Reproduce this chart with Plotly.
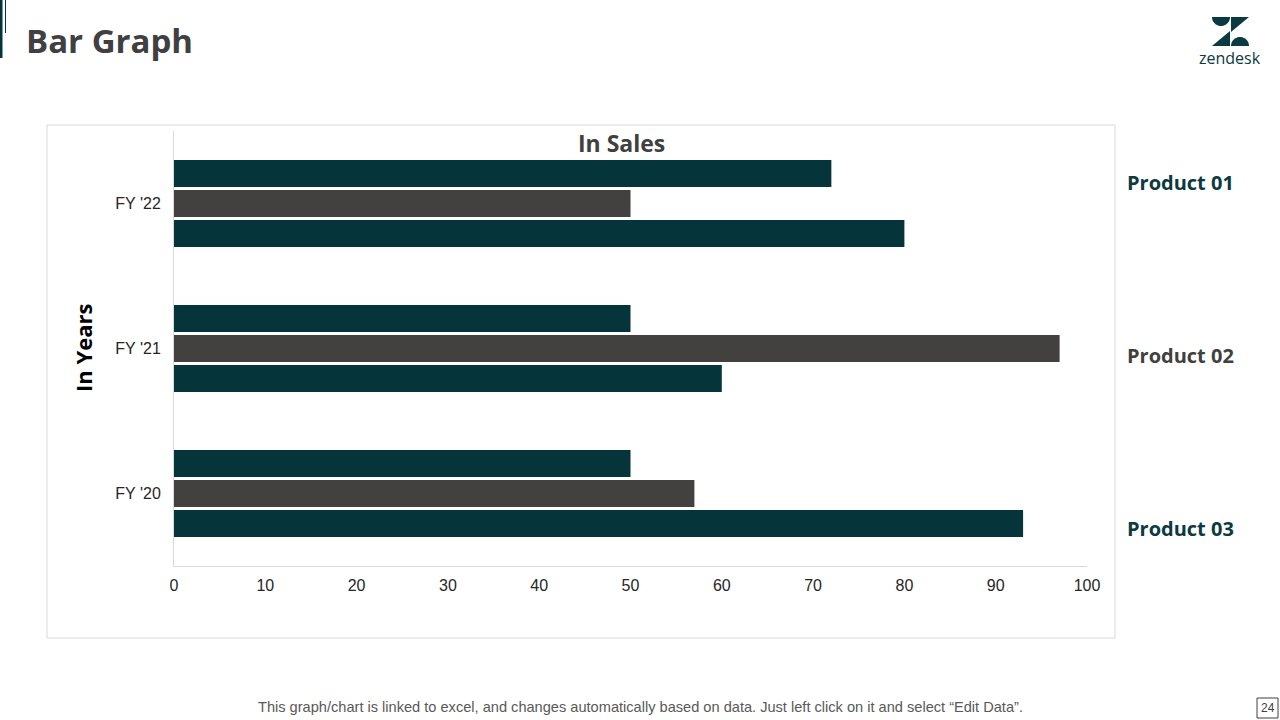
import math
import plotly.graph_objects as go

W, H = 1280, 720

years = ["FY '20", "FY '21", "FY '22"]
product_names = ["Product 01", "Product 02", "Product 03"]
product_01 = [50, 50, 72]
product_02 = [57, 97, 50]
product_03 = [93, 60, 80]
x_ticks = [0, 10, 20, 30, 40, 50, 60, 70, 80, 90, 100]

TEAL = "#06343b"
GRAY = "#434140"
LOGO = "#0b3a40"
HEAD = "Open Sans, sans-serif"

def px(x):
    return x / W

def py(y):
    return 1 - y / H

fig = go.Figure()
# plotly draws the first trace at the bottom of each group
for name, vals, col in [
    (product_names[2], product_03, TEAL),
    (product_names[1], product_02, GRAY),
    (product_names[0], product_01, TEAL),
]:
    fig.add_trace(go.Bar(y=years, x=vals, orientation="h", name=name,
                         marker=dict(color=col, line=dict(width=0))))

fig.update_layout(
    template="none",
    width=W, height=H, autosize=False,
    margin=dict(l=0, r=0, t=0, b=0, pad=0, autoexpand=False),
    paper_bgcolor="white", plot_bgcolor="white",
    showlegend=False,
    barmode="group", bargap=0.38, bargroupgap=0.1,
    font=dict(family="Liberation Sans, Arial, sans-serif", color="#262626"),
    xaxis=dict(domain=[px(174), px(1087)], range=[0, 100], tickvals=x_ticks,
               showgrid=False, zeroline=False, showline=True, linecolor="#d9d9d9",
               linewidth=1, ticks="", tickfont=dict(size=16, color="#262626"),
               ticklabelstandoff=5, fixedrange=True, automargin=False),
    yaxis=dict(domain=[py(566), py(131)], range=[-0.5, 2.5], type="category",
               showgrid=False, zeroline=False, showline=True, linecolor="#d9d9d9",
               linewidth=1, ticks="", tickfont=dict(size=16, color="#262626"),
               ticklabelstandoff=9, fixedrange=True, automargin=False),
)

shapes = []
shapes.append(dict(type="rect", xref="paper", yref="paper",
                   x0=px(47), x1=px(1115), y0=py(638), y1=py(125),
                   line=dict(color="#d9d9d9", width=1), fillcolor="rgba(0,0,0,0)", layer="below"))
shapes.append(dict(type="rect", xref="paper", yref="paper",
                   x0=px(0), x1=px(2.5), y0=py(58), y1=py(0),
                   line=dict(width=0), fillcolor=TEAL))
shapes.append(dict(type="line", xref="paper", yref="paper",
                   x0=px(5.5), x1=px(5.5), y0=py(33), y1=py(0),
                   line=dict(color=TEAL, width=1)))
shapes.append(dict(type="rect", xref="paper", yref="paper",
                   x0=px(1257), x1=px(1278), y0=py(718), y1=py(698),
                   line=dict(color="#404040", width=1), fillcolor="rgba(0,0,0,0)"))

def pth(points):
    return "M " + " L ".join(f"{px(a):.5f},{py(b):.5f}" for a, b in points) + " Z"

def half_disc(cx, cy, r, down=True):
    pts = []
    n = 24
    for i in range(n + 1):
        t = math.pi * i / n
        pts.append((cx + r * math.cos(t), cy + (r * math.sin(t) if down else -r * math.sin(t))))
    return pts

shapes.append(dict(type="path", xref="paper", yref="paper",
                   path=pth(half_disc(1221, 17, 9, down=True)),
                   line=dict(width=0), fillcolor=LOGO))
shapes.append(dict(type="path", xref="paper", yref="paper",
                   path=pth([(1231, 17), (1249, 17), (1231, 32)]),
                   line=dict(width=0), fillcolor=LOGO))
shapes.append(dict(type="path", xref="paper", yref="paper",
                   path=pth([(1212, 46), (1230, 46), (1230, 31)]),
                   line=dict(width=0), fillcolor=LOGO))
shapes.append(dict(type="path", xref="paper", yref="paper",
                   path=pth(half_disc(1240, 46, 9, down=False)),
                   line=dict(width=0), fillcolor=LOGO))

fig.update_layout(shapes=shapes)

ann = []
def add_text(text, x, y, size, color, family, xanchor="center", bold=False, angle=0, weight=None):
    t = f"<b>{text}</b>" if bold else text
    f = dict(size=size, color=color, family=family)
    if weight:
        f["weight"] = weight
    ann.append(dict(text=t, x=px(x), y=py(y), xref="paper", yref="paper",
                    xanchor=xanchor, yanchor="middle", showarrow=False,
                    textangle=angle, font=f))

add_text("Bar Graph", 24, 40, 33, "#404040", HEAD, xanchor="left", bold=True)
add_text("zendesk", 1230, 58, 16, LOGO, "Open Sans, sans-serif", weight=500)
add_text("In Sales", 621, 143, 23, "#404040", HEAD, bold=True)
add_text("In Years", 83, 348, 22, "#000000", HEAD, bold=True, angle=-90)
add_text(product_names[0], 1125, 182, 20, "#0b3a40", HEAD, xanchor="left", bold=True)
add_text(product_names[1], 1125, 355, 20, "#404040", HEAD, xanchor="left", bold=True)
add_text(product_names[2], 1125, 528, 20, "#0b3a40", HEAD, xanchor="left", bold=True)
add_text("This graph/chart is linked to excel, and changes automatically based on data. "
         "Just left click on it and select “Edit Data”.", 640, 707, 14.6, "#595959",
         "Liberation Sans, Arial, sans-serif")
add_text("24", 1267.5, 708, 12, "#404040", "Liberation Sans, Arial, sans-serif")

fig.update_layout(annotations=ann)

fig.write_html("out.html", config={"displayModeBar": False, "responsive": False})
with open("out.html", "r", encoding="utf-8") as f:
    html = f.read()
html = html.replace("<head>", "<head><style>html,body{margin:0;padding:0;overflow:hidden;}</style>", 1)
with open("out.html", "w", encoding="utf-8") as f:
    f.write(html)
